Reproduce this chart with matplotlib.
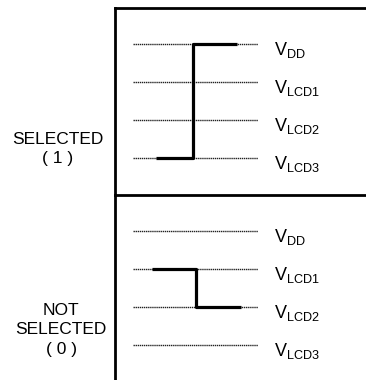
import matplotlib
matplotlib.use("Agg")
import matplotlib.pyplot as plt

plt.rcParams['font.family'] = ['Liberation Sans', 'DejaVu Sans']

# niveis de tensao (indice 3 = topo)
niveis = ["DD", "LCD1", "LCD2", "LCD3"]
nivel_idx = [3, 2, 1, 0]

# linhas de referencia (pontilhadas) em unidades de tempo
t_ref = [0, 10]

# forma de onda SELECTED (1): sobe de VLCD3 para VDD
t_sel = [1.8, 4.8, 8.3]
v_sel = [0, 3, 3]

# forma de onda NOT SELECTED (0): desce de VLCD1 para VLCD2
t_nsel = [1.5, 5.0, 8.6]
v_nsel = [2, 1, 1]

rotulos = ["SELECTED\n( 1 )", "NOT\nSELECTED\n( 0 )"]

W, H = 366, 380
fig = plt.figure(figsize=(W / 100, H / 100), dpi=100)

PX_T = 12.5    # px por unidade de tempo
PX_V = 38.0    # px por nivel
X0 = 133       # px da origem do tempo
XL = 115       # px da linha vertical


def painel(y_top, y_bot, y_base, t, v):
    # y_base: px da linha de VLCD3
    ax = fig.add_axes([XL / W, 1 - y_bot / H, 1 - XL / W, (y_bot - y_top) / H])
    ax.set_xlim((XL - X0) / PX_T, (W - X0) / PX_T)
    ax.set_ylim((y_base - y_bot) / PX_V, (y_base - y_top) / PX_V)
    for s in ["right", "bottom"]:
        ax.spines[s].set_visible(False)
    for s in ["top", "left"]:
        ax.spines[s].set_linewidth(2.0)
    ax.set_xticks([])
    ax.set_yticks([])
    ax.patch.set_alpha(0)

    for nome, i in zip(niveis, nivel_idx):
        ax.plot(t_ref, [i, i], color="#222222", lw=1.0, ls=(0, (1, 0.5)))
        ax.text(11.3, i - 0.17, r"$\mathregular{V_{%s}}$" % nome,
                fontsize=13, va="center", ha="left")

    ax.plot(t, v, color="black", lw=2.3, drawstyle="steps-post",
            solid_capstyle="butt")
    return ax


painel(8, 195, 158, t_sel, v_sel)
painel(195, 382, 345, t_nsel, v_nsel)

fig.text(58 / W, 1 - 149 / H, rotulos[0], ha="center", va="center",
         multialignment="center", fontsize=12.5, linespacing=1.35)
fig.text(61 / W, 1 - 330 / H, rotulos[1], ha="center", va="center",
         multialignment="center", fontsize=12.5, linespacing=1.35)

fig.savefig("out.png", dpi=100)
